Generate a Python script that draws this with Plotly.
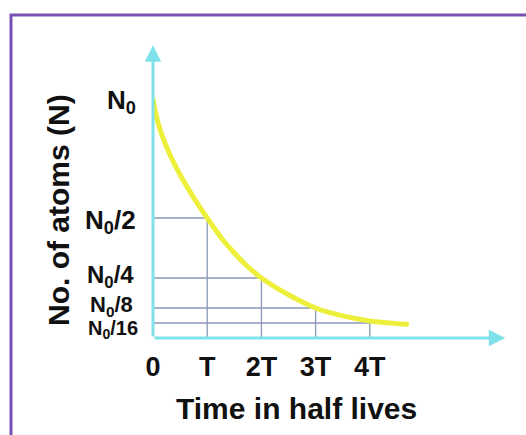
import plotly.graph_objects as go

# Half-life multiples and the fraction of atoms remaining at each
half_lives = [0, 1, 2, 3, 4]
fractions = [1, 1 / 2, 1 / 4, 1 / 8, 1 / 16]
x_tick_labels = ["0", "T", "2T", "3T", "4T"]
y_tick_labels = ["N<sub>0</sub>", "N<sub>0</sub>/2", "N<sub>0</sub>/4",
                 "N<sub>0</sub>/8", "N<sub>0</sub>/16"]

# Decay curve (time in half lives, N / N0)
curve_t = [0, 0.05, 0.15, 0.3, 0.5, 0.75, 1, 1.25, 1.5, 1.75, 2, 2.5, 3, 3.5, 4, 4.4, 4.72]
curve_n = [1, 0.935, 0.855, 0.77, 0.68, 0.585, 0.5, 0.42, 0.354, 0.297, 0.25,
           0.18, 0.125, 0.092, 0.071, 0.062, 0.056]

# Figure geometry (pixels)
FIG_W, FIG_H = 526, 435
L, R, T, B = 153, 10, 30, 97
PW, PH = FIG_W - L - R, FIG_H - T - B
X_SCALE, Y_SCALE = 54.2, 240.0          # pixels per unit on each axis
X_MAX, Y_MAX = PW / X_SCALE, PH / Y_SCALE

AXIS_COLOR = "#7fe2ea"
GRID_COLOR = "#8a98b8"
CURVE_COLOR = "#ecf03a"
TEXT_COLOR = "#111111"
FONT = "Liberation Sans, Arial, sans-serif"

# Per-label font size, vertical nudge and right edge (px) for the N-axis labels
Y_LABEL_STYLE = [(26, -3, 138), (26, -3, 138), (24, 2, 136), (22, 2, 135), (20, -6, 140)]


def px_to_paper_x(px):
    return (px - L) / PW


def px_to_paper_y(py):
    return (FIG_H - B - py) / PH


# Guide lines from each axis to the curve at every half life
grid_x, grid_y = [], []
for t, f in zip(half_lives[1:], fractions[1:]):
    grid_x += [0, t, None, t, t, None]
    grid_y += [f, f, None, 0, f, None]

fig = go.Figure()
fig.add_trace(go.Scatter(x=grid_x, y=grid_y, mode="lines",
                         line=dict(color=GRID_COLOR, width=1.3),
                         hoverinfo="skip", showlegend=False))
fig.add_trace(go.Scatter(x=curve_t, y=curve_n, mode="lines",
                         line=dict(color=CURVE_COLOR, width=5, shape="spline", smoothing=1),
                         showlegend=False))

annotations = []
# Axis arrows
annotations.append(dict(x=6.5, y=0, ax=0, ay=0, xref="x", yref="y", axref="x", ayref="y",
                        text="", showarrow=True, arrowhead=2, arrowsize=1.1,
                        arrowwidth=3, arrowcolor=AXIS_COLOR))
annotations.append(dict(x=0, y=1.22, ax=0, ay=0, xref="x", yref="y", axref="x", ayref="y",
                        text="", showarrow=True, arrowhead=2, arrowsize=1.1,
                        arrowwidth=3, arrowcolor=AXIS_COLOR))

# N-axis labels
for f, lab, (sz, shift, right_px) in zip(fractions, y_tick_labels, Y_LABEL_STYLE):
    annotations.append(dict(x=px_to_paper_x(right_px), y=f, xref="paper", yref="y",
                            xanchor="right", yanchor="middle", yshift=shift,
                            text=lab, showarrow=False,
                            font=dict(family=FONT, size=sz, color=TEXT_COLOR, weight="bold")))

# Axis titles
annotations.append(dict(x=px_to_paper_x(296), y=px_to_paper_y(408), xref="paper", yref="paper",
                        xanchor="center", yanchor="middle", text="Time in half lives",
                        showarrow=False,
                        font=dict(family=FONT, size=30, color=TEXT_COLOR, weight="bold")))
annotations.append(dict(x=px_to_paper_x(58), y=px_to_paper_y(210), xref="paper", yref="paper",
                        xanchor="center", yanchor="middle", text="No. of atoms (N)",
                        textangle=-90, showarrow=False,
                        font=dict(family=FONT, size=30, color=TEXT_COLOR, weight="bold")))

fig.update_layout(
    width=FIG_W, height=FIG_H,
    margin=dict(l=L, r=R, t=T, b=B),
    paper_bgcolor="white", plot_bgcolor="white",
    annotations=annotations,
    shapes=[dict(type="rect", xref="paper", yref="paper",
                 x0=px_to_paper_x(11), x1=px_to_paper_x(540),
                 y0=px_to_paper_y(450), y1=px_to_paper_y(15),
                 line=dict(color="#7850b4", width=3), fillcolor="rgba(0,0,0,0)",
                 layer="below")],
    xaxis=dict(range=[0, X_MAX], showgrid=False, zeroline=False, showline=False,
               tickvals=half_lives, ticktext=x_tick_labels, ticks="",
               ticklabelstandoff=10,
               tickfont=dict(family=FONT, size=27, color=TEXT_COLOR, weight="bold")),
    yaxis=dict(range=[0, Y_MAX], showgrid=False, zeroline=False, showline=False,
               showticklabels=False, ticks=""),
)

fig.write_html("out.html")
